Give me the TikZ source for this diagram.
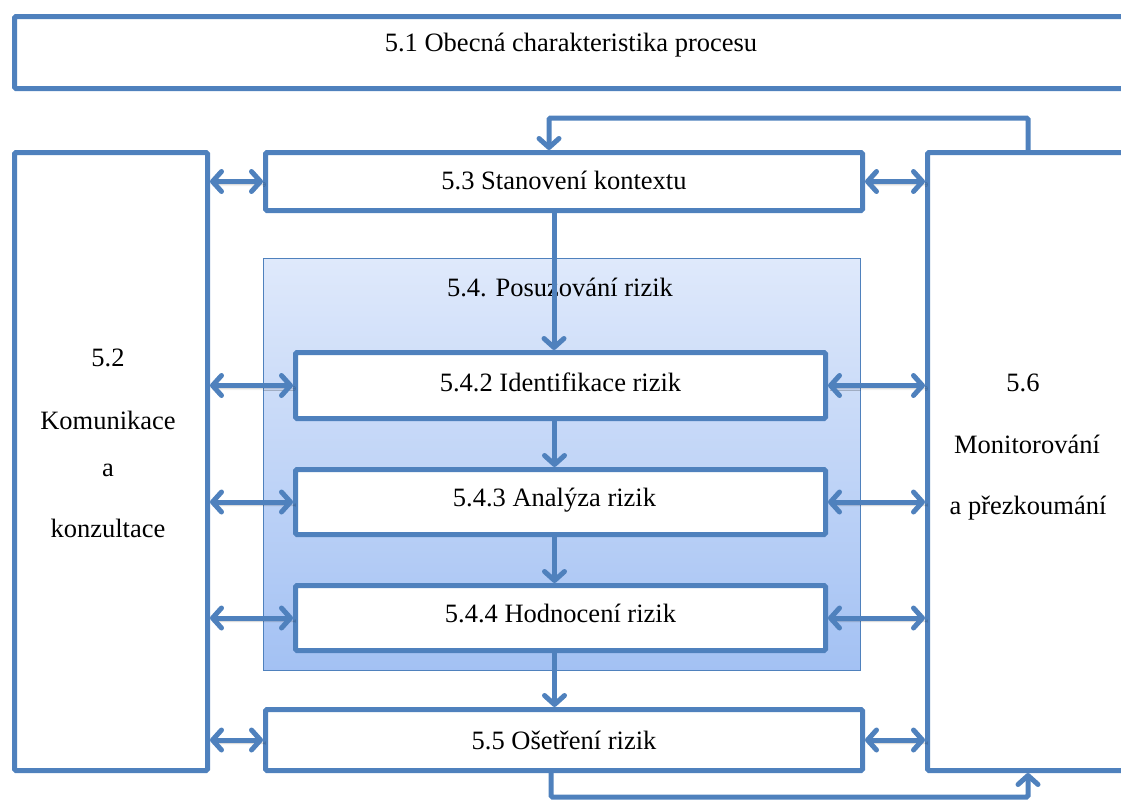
\documentclass[tikz,border=0pt]{standalone}
\usepackage{fontspec}
\setmainfont{Liberation Serif}
\usetikzlibrary{arrows.meta,shadows.blur}
\definecolor{bl}{HTML}{4F81BD}
\definecolor{gtop}{RGB}{223,233,251}
\definecolor{gbot}{RGB}{163,193,243}
\begin{document}
\begin{tikzpicture}[x=1pt,y=-1pt,
  box/.style={draw=bl,line width=5pt,fill=white,rounded corners=1.5pt},
  lbl/.style={font=\fontsize{26.5}{30}\selectfont,inner sep=0pt},
  tip/.style={line width=5pt,draw=bl,arrows={-Straight Barb[length=9pt,width=20pt,line cap=round,line join=round]}},
  dbl/.style={tip,arrows={Straight Barb[length=9pt,width=20pt,line cap=round,line join=round]-Straight Barb[length=9pt,width=20pt,line cap=round,line join=round]},
    blur shadow={shadow xshift=2pt,shadow yshift=-3pt,shadow blur steps=6,shadow opacity=25}},
  ln/.style={line width=5pt,draw=bl,rounded corners=1.5pt}]
\useasboundingbox (0,0) rectangle (1121,803);
\clip (0,0) rectangle (1121,803);
% big gradient box
\node[draw=bl,line width=1.2pt,top color=gtop,bottom color=gbot,minimum width=597pt,minimum height=412pt,anchor=north west,inner sep=0pt] (posz) at (263,258) {};
\node[lbl] (poszt) at (560,287) {5.4. Posuzování rizik};
% top box
\node[box,anchor=north west,minimum width=1150pt,minimum height=72pt,inner sep=0pt] (b51) at (12,14) {};
\node[lbl] (t51) at (571,45) {5.1 Obecná charakteristika procesu};
% left box
\node[box,anchor=north west,minimum width=193pt,minimum height=618pt,inner sep=0pt] (b52) at (12,150) {};
\node[lbl] (t52a) at (108,358) {5.2};
\node[lbl] (t52b) at (108,420) {Komunikace};
\node[lbl] (t52c) at (108,470) {a};
\node[lbl] (t52d) at (108,528) {konzultace};
% right box
\node[box,anchor=north west,minimum width=230pt,minimum height=618pt,inner sep=0pt] (b56) at (925,150) {};
\node[lbl] (t56a) at (1023,383) {5.6};
\node[lbl] (t56b) at (1027,444) {Monitorování};
\node[lbl] (t56c) at (1028,508) {a přezkoumání};
% middle boxes
\node[box,anchor=north west,minimum width=597pt,minimum height=58pt,inner sep=0pt] (b53) at (263,150) {};
\node[lbl] at ([yshift=1pt]b53.center) {5.3 Stanovení kontextu};
\node[box,anchor=north west,minimum width=530pt,minimum height=66pt,inner sep=0pt] (b542) at (293,350) {};
\node[lbl] at ([yshift=3pt]b542.center) {5.4.2 Identifikace rizik};
\node[box,anchor=north west,minimum width=530pt,minimum height=65pt,inner sep=0pt] (b543) at (293,467) {};
\node[lbl] at ([xshift=-6pt,yshift=2pt]b543.center) {5.4.3 Analýza rizik};
\node[box,anchor=north west,minimum width=530pt,minimum height=65pt,inner sep=0pt] (b544) at (293,583) {};
\node[lbl] at ([yshift=5pt]b544.center) {5.4.4 Hodnocení rizik};
\node[box,anchor=north west,minimum width=597pt,minimum height=61pt,inner sep=0pt] (b55) at (263,707) {};
\node[lbl] at (b55.center) {5.5 Ošetření rizik};
% vertical arrows
\draw[tip] ([xshift=-10pt]b53.south) -- ([xshift=-10pt]b53.south |- b542.north);
\draw[tip] ([xshift=-6pt]b542.south) -- ([xshift=-6pt]b542.south |- b543.north);
\draw[tip] ([xshift=-6pt]b543.south) -- ([xshift=-6pt]b543.south |- b544.north);
\draw[tip] ([xshift=-6pt]b544.south) -- ([xshift=-6pt]b544.south |- b55.north);
% loops
\coordinate (tl) at (549,118);
\coordinate (tr) at (1028,118);
\draw[ln,-{Straight Barb[length=9pt,width=20pt,line cap=round,line join=round]}] (tr |- b56.north) -- (tr) -- (tl) -- (tl |- b53.north);
\coordinate (bl1) at (551,797);
\coordinate (br1) at (1028,797);
\draw[ln,-{Straight Barb[length=9pt,width=20pt,line cap=round,line join=round]}] (bl1 |- b55.south) -- (bl1) -- (br1) -- (br1 |- b56.south);
% double arrows left
\draw[dbl] (b52.east |- b53.west) -- (b53.west);
\draw[dbl] (b52.east |- b542.west) -- (b542.west);
\draw[dbl] (b52.east |- b543.west) -- (b543.west);
\draw[dbl] (b52.east |- b544.west) -- (b544.west);
\draw[dbl] (b52.east |- b55.west) -- (b55.west);
% double arrows right
\draw[dbl] (b53.east) -- (b56.west |- b53.east);
\draw[dbl] (b542.east) -- (b56.west |- b542.east);
\draw[dbl] (b543.east) -- (b56.west |- b543.east);
\draw[dbl] (b544.east) -- (b56.west |- b544.east);
\draw[dbl] (b55.east) -- (b56.west |- b55.east);
\end{tikzpicture}
\end{document}
